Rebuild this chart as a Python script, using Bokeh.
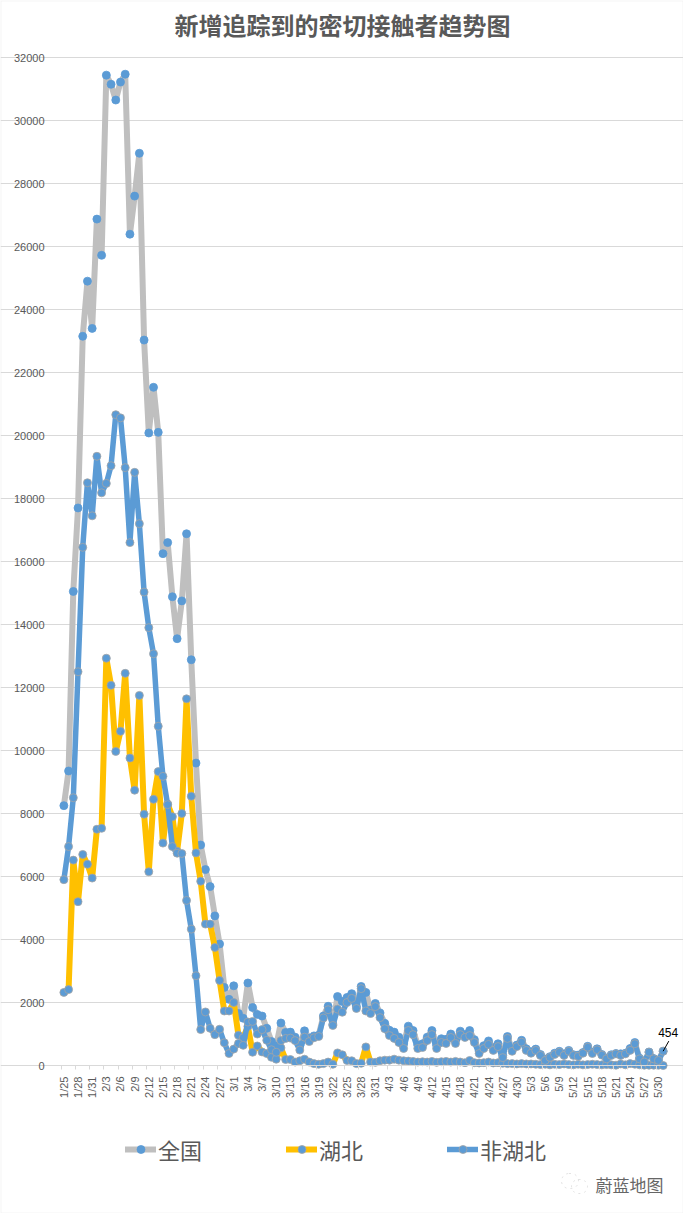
import pandas as pd
from bokeh.embed import file_html
from bokeh.models import Arrow, BoxAnnotation, FixedTicker, Label, Legend, LegendItem, NumeralTickFormatter
from bokeh.plotting import figure
from bokeh.resources import INLINE

dates = [f"{d.month}/{d.day}" for d in pd.date_range("2020-01-25", "2020-05-31")]

national = [
    8250, 9350, 15050, 17700, 23150, 24900, 23400, 26870, 25720, 31440, 31150, 30650, 31220, 31470, 26390, 27600,
    28960, 23030, 20080, 21530, 20100, 16250, 16600, 14880, 13550, 14750, 16880, 12880, 9600, 7000, 6220, 5680,
    4750, 3860, 2480, 2100, 2530, 1650, 1500, 2620, 1840, 1620, 1570, 1180, 760, 620, 1350, 1050,
    1060, 900, 640, 1100, 870, 940, 960, 1570, 1880, 1310, 2190, 2030, 2160, 2280, 1870, 2510,
    2320, 1760, 1970, 1670, 1340, 1120, 1060, 900, 690, 1250, 1110, 650, 690, 900, 1110, 640,
    850, 830, 1000, 830, 1090, 980, 1110, 820, 460, 630, 780, 560, 690, 320, 920, 510,
    650, 800, 530, 440, 520, 350, 200, 280, 390, 450, 370, 480, 340, 330, 410, 610,
    420, 530, 350, 240, 340, 380, 370, 390, 540, 730, 230, 120, 430, 220, 170, 454,
]
hubei = [
    2320, 2410, 6520, 5200, 6700, 6390, 5950, 7500, 7530, 12930, 12070, 9970, 10610, 12450, 9760, 8740,
    11750, 7980, 6150, 8450, 9330, 7060, 8300, 7900, 6800, 8000, 11640, 8550, 6750, 5850, 4490, 4490,
    3750, 2700, 1730, 1730, 2000, 960, 880, 1240, 420, 620, 430, 380, 260, 200, 560, 190,
    190, 110, 150, 200, 110, 60, 40, 60, 110, 40, 400, 340, 160, 150, 60, 70,
    590, 110, 100, 150, 170, 170, 200, 170, 150, 140, 130, 110, 120, 110, 130, 100,
    120, 130, 110, 130, 110, 90, 160, 90, 80, 90, 110, 80, 90, 70, 60, 60,
    50, 60, 50, 50, 40, 30, 40, 20, 40, 30, 50, 30, 20, 40, 20, 30,
    40, 30, 20, 30, 20, 10, 50, 20, 60, 40, 20, 10, 10, 10, 10, 0,
]
non_hubei = [
    5900, 6950, 8500, 12500, 16450, 18500, 17450, 19340, 18180, 18480, 19040, 20660, 20560, 18980, 16600, 18830,
    17200, 15030, 13900, 13070, 10770, 9180, 8280, 6950, 6740, 6730, 5240, 4330, 2850, 1140, 1700, 1180,
    980, 1150, 720, 380, 520, 700, 640, 1380, 1400, 1000, 1140, 800, 500, 420, 790, 860,
    870, 790, 490, 900, 760, 880, 920, 1510, 1770, 1270, 1790, 1690, 2000, 2130, 1810, 2440,
    1730, 1650, 1870, 1520, 1170, 950, 860, 730, 540, 1110, 980, 540, 570, 790, 980, 540,
    730, 700, 890, 700, 980, 890, 950, 730, 380, 540, 670, 480, 600, 250, 860, 450,
    600, 740, 480, 390, 480, 320, 160, 260, 350, 420, 320, 450, 320, 290, 390, 580,
    380, 500, 330, 210, 320, 370, 320, 370, 480, 690, 210, 110, 420, 210, 160, 454,
]
y_ticks = list(range(0, 32001, 2000))
days = list(range(len(dates)))
label_days = days[::3]

GREY = "#BFBFBF"
YELLOW = "#FFC000"
BLUE = "#5B9BD5"
RING = "#A5A5A5"
TEXT = "#595959"
NUM_FONT = "Liberation Sans"
CJK_FONT = "Noto Sans CJK SC"

# the frame fills the page so the legend, title and callout are not clipped to it
WIDTH, HEIGHT = 683, 1213
LEFT, RIGHT, TOP, BOTTOM = 61, 665, 57, 1065
x_start, x_end = -0.5, len(dates) - 0.5
y_start, y_end = 0, 32000
per_px_x = (x_end - x_start) / (RIGHT - LEFT)
per_px_y = (y_end - y_start) / (BOTTOM - TOP)

p = figure(width=WIDTH, height=HEIGHT,
           x_range=(x_start - LEFT * per_px_x, x_end + (WIDTH - RIGHT) * per_px_x),
           y_range=(y_start - (HEIGHT - BOTTOM) * per_px_y, y_end + TOP * per_px_y),
           output_backend="svg", toolbar_location=None,
           min_border_left=0, min_border_right=0, min_border_top=0, min_border_bottom=0)
p.outline_line_color = None
p.xgrid.visible = False
p.ygrid.grid_line_color = "#D9D9D9"
p.ygrid.ticker = FixedTicker(ticks=y_ticks)
p.ygrid.bounds = (x_start, x_end)

p.yaxis.fixed_location = x_start
p.yaxis.bounds = (y_start, y_end)
p.yaxis.ticker = FixedTicker(ticks=y_ticks)
p.yaxis.formatter = NumeralTickFormatter(format="0")
p.yaxis.axis_line_color = None
p.yaxis.major_tick_line_color = None
p.yaxis.minor_tick_line_color = None
p.yaxis.major_label_standoff = 11
p.yaxis.major_label_text_font = NUM_FONT
p.yaxis.major_label_text_font_size = "11px"
p.yaxis.major_label_text_color = TEXT

# ticks sit between the categories, labels on them
p.xaxis.fixed_location = y_start
p.xaxis.bounds = (x_start, x_end)
p.xaxis.ticker = FixedTicker(ticks=label_days, minor_ticks=[d - 0.5 for d in label_days])
p.xaxis.major_label_overrides = {d: dates[d] for d in label_days}
p.xaxis.major_label_orientation = 3.14159265 / 2
p.xaxis.axis_line_color = "#D9D9D9"
p.xaxis.major_tick_line_color = None
p.xaxis.minor_tick_line_color = "#D9D9D9"
p.xaxis.minor_tick_in = 0
p.xaxis.minor_tick_out = 4
p.xaxis.major_label_standoff = 5
p.xaxis.major_label_text_font = NUM_FONT
p.xaxis.major_label_text_font_size = "11px"
p.xaxis.major_label_text_color = TEXT

items = []
for name, values, color, width, ring in [("全国", national, GREY, 6, BLUE), ("湖北", hubei, YELLOW, 6, RING),
                                         ("非湖北", non_hubei, BLUE, 5.5, RING)]:
    ln = p.line(days, values, line_color=color, line_width=width, line_join="round", line_cap="round")
    pts = p.scatter(days, values, size=8, fill_color=BLUE, line_color=ring, line_width=0.8)
    items.append(LegendItem(label=name, renderers=[ln, pts]))

legend = Legend(items=items, location=(125, 76), orientation="horizontal", spacing=84,
                glyph_width=31, glyph_height=20, label_standoff=2, padding=0, margin=0,
                background_fill_alpha=0, border_line_color=None,
                label_text_font=CJK_FONT, label_text_font_size="22px", label_text_color=TEXT)
legend.location = (125, 48)
p.add_layout(legend)

# title and watermark, screen y counts from the bottom
p.add_layout(Label(x=342, y=1189, x_units="screen", y_units="screen", text="新增追踪到的密切接触者趋势图",
                   text_align="center", text_baseline="middle", text_font=CJK_FONT, text_font_size="24px",
                   text_font_style="bold", text_color=TEXT))
p.add_layout(Label(x=595, y=29, x_units="screen", y_units="screen", text="蔚蓝地图",
                   text_align="left", text_baseline="middle", text_font=CJK_FONT, text_font_size="17px",
                   text_color="#666666"))
for left, right, bottom, top in [(561, 578, 25, 40), (571, 587, 20, 34)]:
    p.add_layout(BoxAnnotation(left=left, right=right, bottom=bottom, top=top, left_units="screen",
                               right_units="screen", top_units="screen", bottom_units="screen", fill_alpha=0,
                               line_color="#888888", line_width=0.8, line_dash="dotted", border_radius=8))

# last point callout
last = days[-1]
p.add_layout(Arrow(end=None, x_start=last, y_start=non_hubei[-1], x_end=last + 1.2, y_end=non_hubei[-1] + 320,
                   line_color="black", line_width=1))
p.add_layout(Label(x=last, y=non_hubei[-1], text=str(non_hubei[-1]), x_offset=5, y_offset=19,
                   text_align="center", text_baseline="middle", text_font=NUM_FONT, text_font_size="12px",
                   text_color="black"))

p.add_layout(BoxAnnotation(left=0, right=WIDTH, top=HEIGHT, bottom=0, left_units="screen", right_units="screen",
                           top_units="screen", bottom_units="screen", fill_alpha=0,
                           line_color="#D9D9D9", line_width=2))

open("out.html", "w").write(file_html(p, INLINE))
